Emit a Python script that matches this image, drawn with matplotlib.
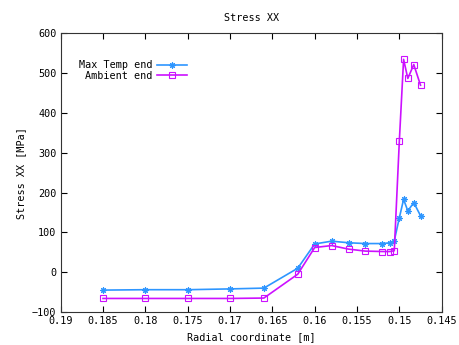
import matplotlib
matplotlib.use("Agg")
import matplotlib.pyplot as plt

radius = [0.185, 0.18, 0.175, 0.17, 0.166, 0.162, 0.16, 0.158, 0.156, 0.154,
          0.152, 0.1511, 0.1506, 0.1500, 0.1495, 0.1490, 0.1483, 0.1475]
max_temp = [-45, -44, -44, -42, -40, 10, 71, 78, 74, 72,
            72, 74, 79, 137, 183, 154, 175, 142]
ambient = [-66, -66, -66, -66, -65, -5, 62, 67, 58, 53,
           52, 52, 54, 331, 535, 487, 522, 470]

xticks = [0.19, 0.185, 0.18, 0.175, 0.17, 0.165, 0.16, 0.155, 0.15, 0.145]
xticklabels = ["0.19", "0.185", "0.18", "0.175", "0.17", "0.165", "0.16", "0.155", "0.15", "0.145"]
yticks = [-100, 0, 100, 200, 300, 400, 500, 600]

plt.rcParams['font.family'] = ['DejaVu Sans Mono']
fs = 7.3

fig = plt.figure(figsize=(4.59, 3.45), dpi=100)
ax = fig.add_axes([0.1322, 0.0957, 0.8301, 0.8072])

blue = '#2e96ff'
mag = '#cc11ff'
ax.plot(radius, max_temp, color=blue, lw=1.2, marker=(8, 2, 0), ms=4.5,
        markeredgewidth=0.8, label='Max Temp end')
ax.plot(radius, ambient, color=mag, lw=1.2, marker='s', ms=4, mfc='none',
        markeredgewidth=0.8, label='Ambient end')

ax.set_xlim(0.19, 0.145)
ax.set_ylim(-100, 600)
ax.set_xticks(xticks)
ax.set_xticklabels(xticklabels)
ax.set_yticks(yticks)
ax.tick_params(direction='in', length=4, width=0.8, top=True, right=True,
               labelsize=fs, pad=3, colors='#000000')
for s in ax.spines.values():
    s.set_linewidth(0.8)
    s.set_color('#333333')

ax.set_title('Stress XX', fontsize=fs, pad=9)
ax.set_xlabel('Radial coordinate [m]', fontsize=fs, labelpad=4)
ax.set_ylabel('Stress XX [MPa]', fontsize=fs, labelpad=4)

leg = ax.legend(loc='upper left', bbox_to_anchor=(0.038, 0.918), frameon=False,
                fontsize=fs, markerfirst=False, handlelength=3.0,
                handletextpad=0.4, labelspacing=0.02, borderaxespad=0)
for t in leg.get_texts():
    t.set_ha('right')
leg._legend_box.align = 'right'

fig.savefig('out.png', dpi=100)
